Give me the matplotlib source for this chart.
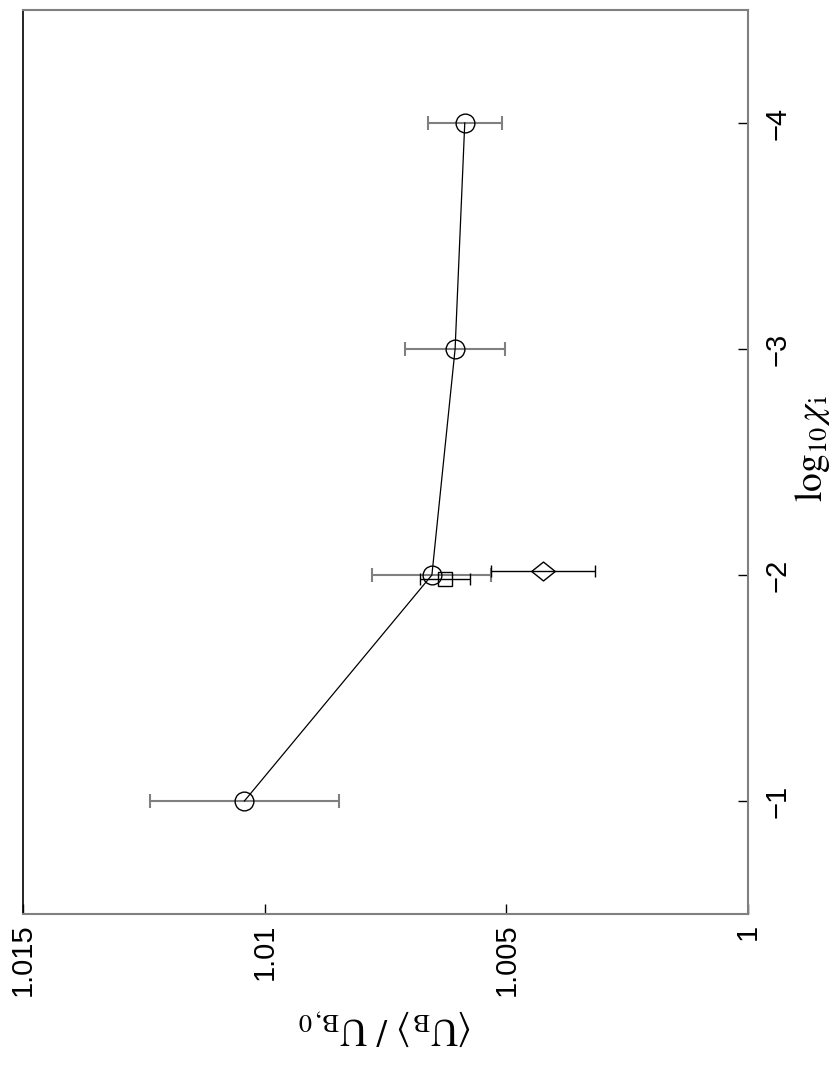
import numpy as np
import matplotlib
matplotlib.use("Agg")
from matplotlib import pyplot as plt

plt.rcParams['font.family'] = ['Liberation Sans', 'DejaVu Sans']
plt.rcParams['mathtext.fontset'] = 'stix'

# main series (circles)
log_chi = [-1, -2, -3, -4]
u_ratio = [1.01042, 1.00654, 1.00606, 1.00586]
u_err = [0.00195, 0.00123, 0.00103, 0.00077]

# extra points at log chi = -2
sq_chi = [-2]
sq_ratio = [1.00627]
sq_err = [0.00052]
dia_chi = [-2]
dia_ratio = [1.00424]
dia_err = [0.00108]

x_ticks = [1.015, 1.01, 1.005, 1.0]
x_ticklabels = ['1.015', '1.01', '1.005', '1']
y_ticks = [-1, -2, -3, -4]
y_ticklabels = ['\u22121', '\u22122', '\u22123', '\u22124']

offset = 0.019
gray = '#808080'


def main():
    fig = plt.figure(figsize=(8.3, 10.65), dpi=100)
    ax = fig.add_axes([23/830, 151/1065, 725/830, 904/1065])

    ax.errorbar(u_ratio, log_chi, xerr=u_err, fmt='none', ecolor=gray,
                elinewidth=1.5, capsize=5, capthick=1.5, zorder=2)
    ax.plot(u_ratio, log_chi, color='black', lw=0.9, marker='o', ms=13.5,
            mfc='none', mec='black', mew=1.0, zorder=3)

    sq_y = np.array(sq_chi) + offset
    ax.errorbar(sq_ratio, sq_y, xerr=sq_err, fmt='none', ecolor='black',
                elinewidth=1.0, capsize=4, capthick=1.0, zorder=2)
    ax.plot(sq_ratio, sq_y, ls='none', marker='s', ms=10.5, mfc='none',
            mec='black', mew=1.0, zorder=3)

    dia_y = np.array(dia_chi) - offset
    ax.errorbar(dia_ratio, dia_y, xerr=dia_err, fmt='none', ecolor='black',
                elinewidth=1.0, capsize=4, capthick=1.0, zorder=2)
    dmark = [(-1.25, 0), (0, 1), (1.25, 0), (0, -1), (-1.25, 0)]
    ax.plot(dia_ratio, dia_y, ls='none', marker=dmark, ms=17, mfc='none',
            mec='black', mew=1.0, zorder=3)

    ax.set_xlim(1.015, 1.0)
    ax.set_ylim(-0.5, -4.5)

    ax.set_xticks(x_ticks)
    ax.set_xticklabels(x_ticklabels, rotation=90, fontsize=21)
    ax.yaxis.tick_right()
    ax.set_yticks(y_ticks)
    ax.set_yticklabels(y_ticklabels, rotation=90, fontsize=21, va='center')
    ax.tick_params(axis='x', direction='in', length=7, width=1, color='black',
                   pad=7, top=False, bottom=True)
    ax.tick_params(axis='y', direction='in', length=7, width=1, color='black',
                   pad=11, left=False, right=True)

    for side in ['top', 'right', 'bottom']:
        ax.spines[side].set_color(gray)
        ax.spines[side].set_linewidth(1.5)
    ax.spines['left'].set_color('black')
    ax.spines['left'].set_linewidth(1.2)

    ax.set_xlabel(r'$\langle\mathrm{U}_\mathrm{B}\rangle\ /\ \mathrm{U}_\mathrm{B,0}$',
                  fontsize=27, rotation=180, labelpad=8)
    ax.yaxis.set_label_position('right')
    ax.set_ylabel(r'$\mathrm{log}_{10}\,\chi_\mathrm{i}$', fontsize=27,
                  rotation=90)
    ax.yaxis.set_label_coords(1.062, 0.515)

    fig.savefig('out.png', dpi=100)


if __name__ == "__main__":
    main()
